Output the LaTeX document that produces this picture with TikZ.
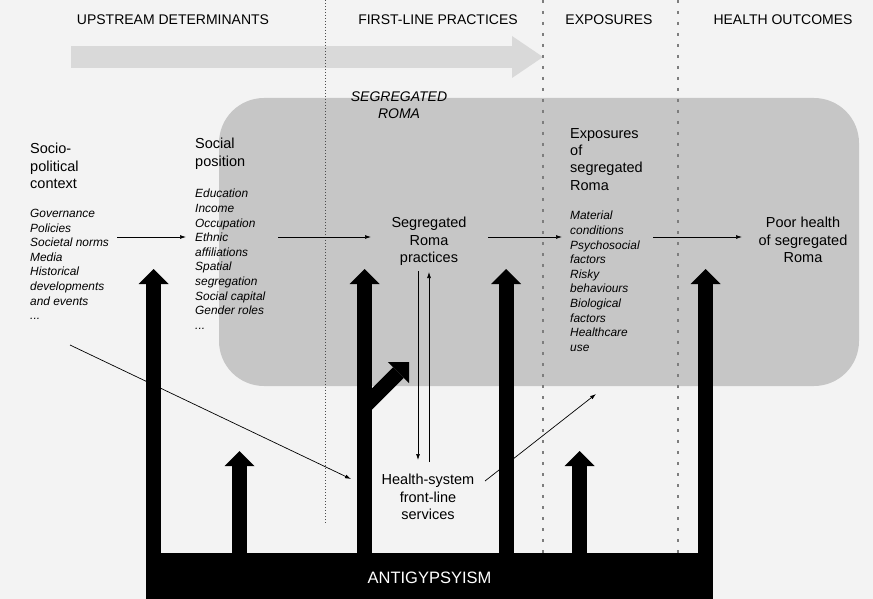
\documentclass[tikz,border=0pt]{standalone}
\usepackage{fontspec}
\setmainfont{Liberation Sans}
\usepackage{tikz}
\definecolor{bg}{RGB}{243, 243, 243}
\definecolor{boxgrey}{RGB}{198, 198, 198}
\definecolor{flowgrey}{RGB}{217, 217, 217}
\definecolor{sepgrey}{RGB}{125, 125, 125}
\usetikzlibrary{arrows.meta}

\begin{document}
\begin{tikzpicture}[
  hdr/.style={inner sep=0pt, font=\fontsize{14}{17}\selectfont},
  main/.style={inner sep=0pt, align=left, anchor=north west, font=\fontsize{14.5}{17.3}\selectfont},
  cmain/.style={inner sep=0pt, align=center, anchor=north, font=\fontsize{14.5}{17.3}\selectfont},
  list/.style={inner sep=0pt, align=left, anchor=north west, font=\fontsize{11.9}{14.6}\selectfont\itshape},
  flowarrow/.style={line width=0.7pt, -{Latex[length=6pt, width=4pt]}},
  bigarrow/.style={line width=15pt, -{Triangle[width=30pt, length=15pt, line width=0pt]}},
  colsep/.style={line width=1.2pt, color=sepgrey, dash pattern=on 3pt off 8pt}]
\fill [bg] (0pt, 0pt) rectangle (873pt, -599pt);
\useasboundingbox (0pt, 0pt) rectangle (873pt, -599pt);
% background shapes
\coordinate (flowstart) at (71pt, -57pt);
\coordinate (flowend) at (543pt, -57pt);
\draw [line width=22pt, color=flowgrey, -{Triangle[width=42pt, length=31pt, line width=0pt]}] (flowstart) -- (flowend);
\fill [boxgrey, rounded corners=45pt] (219pt, -98pt) rectangle (859pt, -386pt);
\draw [line width=0.6pt, color=black!70, dash pattern=on 0.8pt off 2.2pt] (325pt, 0pt) -- (325pt, -523pt);
\draw [colsep] (543pt, 0pt) -- (543pt, -553pt);
\draw [colsep] (678pt, 0pt) -- (678pt, -553pt);
% headers
\node (upstream) [hdr] at (173pt, -20pt) {UPSTREAM DETERMINANTS};
\node (firstline) [hdr] at (438pt, -20pt) {FIRST-LINE PRACTICES};
\node (exphdr) [hdr] at (609pt, -20pt) {EXPOSURES};
\node (outhdr) [hdr] at (783pt, -20pt) {HEALTH OUTCOMES};
% text
\node (roma) [cmain, font=\fontsize{14}{17}\selectfont\itshape] at (399pt, -92pt) {SEGREGATED\\ROMA};
\node (context) [main] at (30pt, -143pt) {Socio-\\political\\context};
\node (contextlist) [list] at (30pt, -209pt) {Governance\\Policies\\Societal norms\\Media\\Historical\\developments\\and events\\...};
\node (position) [main] at (195pt, -138pt) {Social\\position};
\node (positionlist) [list] at (195pt, -189pt) {Education\\Income\\Occupation\\Ethnic\\affiliations\\Spatial\\segregation\\Social capital\\Gender roles\\...};
\node (practices) [cmain] at (429pt, -217pt) {Segregated\\Roma\\practices};
\node (exposures) [main] at (570pt, -128pt) {Exposures\\of\\segregated\\Roma};
\node (exposurelist) [list] at (570pt, -211pt) {Material\\conditions\\Psychosocial\\factors\\Risky\\behaviours\\Biological\\factors\\Healthcare\\use};
\node (outcome) [cmain] at (803pt, -217pt) {Poor health\\of segregated\\Roma};
\node (services) [cmain] at (428pt, -474pt) {Health-system\\front-line\\services};
% thin arrows
\coordinate (c1) at (117pt, -237pt);
\coordinate (c2) at (186pt, -237pt);
\coordinate (p1) at (278pt, -237pt);
\coordinate (p2) at (371pt, -237pt);
\coordinate (e1) at (488pt, -237pt);
\coordinate (e2) at (562pt, -237pt);
\coordinate (o1) at (653pt, -237pt);
\coordinate (o2) at (742pt, -237pt);
\coordinate (down1) at (418pt, -271pt);
\coordinate (down2) at (418pt, -460pt);
\coordinate (up1) at (429pt, -462pt);
\coordinate (up2) at (429pt, -272pt);
\coordinate (ctx) at (70pt, -345pt);
\coordinate (srv) at (351pt, -479pt);
\coordinate (srvout) at (485pt, -481pt);
\coordinate (expin) at (596pt, -394pt);
\draw [flowarrow] (c1) -- (c2);
\draw [flowarrow] (p1) -- (p2);
\draw [flowarrow] (e1) -- (e2);
\draw [flowarrow] (o1) -- (o2);
\draw [flowarrow] (down1) -- (down2);
\draw [flowarrow] (up1) -- (up2);
\draw [flowarrow] (ctx) -- (srv);
\draw [flowarrow] (srvout) -- (expin);
% antigypsyism
\node (bar) [fill=black, text=white, inner sep=0pt, minimum width=567pt, minimum height=50pt, font=\fontsize{16.5}{20}\selectfont] at (429.5pt, -578pt) {ANTIGYPSYISM};
\coordinate (t1) at (153.5pt, -269pt);
\coordinate (t2) at (239.5pt, -451pt);
\coordinate (t3) at (364.5pt, -269pt);
\coordinate (t4) at (506pt, -269pt);
\coordinate (t5) at (579.5pt, -451pt);
\coordinate (t6) at (705.5pt, -269pt);
\foreach \t in {t1, t2, t3, t4, t5, t6}
  \draw [bigarrow] (\t |- bar.north) -- (\t);
\coordinate (b0) at (366pt, -405pt);
\coordinate (b1) at (409pt, -362pt);
\draw [bigarrow] (b0) -- (b1);
\end{tikzpicture}
\end{document}
